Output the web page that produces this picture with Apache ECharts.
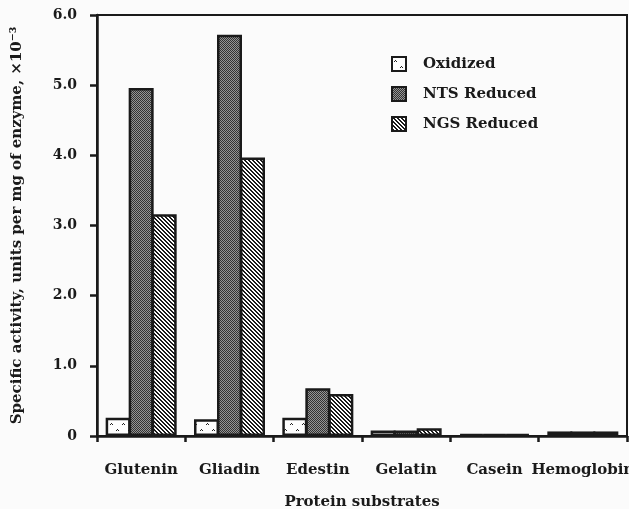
<!DOCTYPE html>
<html>
<head>
<meta charset="utf-8">
<script src="https://cdn.jsdelivr.net/npm/echarts@6/dist/echarts.min.js"></script>
<style>
html,body{margin:0;padding:0;background:#fbfbfb;}
#chart{width:629px;height:509px;}
</style>
</head>
<body>
<div id="chart"></div>
<script>
const categories = ['Glutenin', 'Gliadin', 'Edestin', 'Gelatin', 'Casein', 'Hemoglobin'];
const oxidized = [0.26, 0.24, 0.26, 0.08, 0.03, 0.065];
const ntsReduced = [4.96, 5.72, 0.68, 0.08, 0.03, 0.065];
const ngsReduced = [3.16, 3.97, 0.60, 0.11, 0.03, 0.065];
const seriesNames = ['Oxidized', 'NTS Reduced', 'NGS Reduced'];

function tile(w, h, draw) {
  const c = document.createElement('canvas');
  c.width = w; c.height = h;
  const ctx = c.getContext('2d');
  draw(ctx);
  return { image: c, repeat: 'repeat' };
}
const patOx = tile(12, 12, ctx => {
  ctx.fillStyle = '#fdfdfd'; ctx.fillRect(0, 0, 12, 12);
  ctx.fillStyle = '#222';
  [[3, 3], [9, 9]].forEach(([x, y]) => {
    ctx.fillRect(x, y, 1, 1);
    ctx.fillRect(x - 1, y + 1, 1, 1);
    ctx.fillRect(x + 1, y + 1, 1, 1);
  });
});
const patNTS = tile(2, 2, ctx => {
  ctx.fillStyle = '#959595'; ctx.fillRect(0, 0, 2, 2);
  ctx.fillStyle = '#333333'; ctx.fillRect(0, 0, 1, 1); ctx.fillRect(1, 1, 1, 1);
});
const patNGS = tile(4, 4, ctx => {
  ctx.fillStyle = '#fdfdfd'; ctx.fillRect(0, 0, 4, 4);
  ctx.fillStyle = '#1a1a1a';
  for (let i = 0; i < 4; i++) { ctx.fillRect(i, i, 1, 1); ctx.fillRect((i + 1) % 4, i, 1, 1); }
});

const font = 'DejaVu Serif';
const ink = '#1a1a1a';
const chart = echarts.init(document.getElementById('chart'), null, { renderer: 'canvas' });
const barStyle = (pat) => ({ color: pat, borderColor: ink, borderWidth: 2.5 });

chart.setOption({
  backgroundColor: '#fbfbfb',
  animation: false,
  grid: { left: 97, right: 2, top: 15, bottom: 73, show: true, borderColor: ink, borderWidth: 2,
    backgroundColor: 'transparent', containLabel: false, outerBoundsMode: 'none' },
  legend: {
    orient: 'vertical', left: 386, top: 51, itemGap: 14, itemWidth: 14, itemHeight: 14,
    icon: 'rect',
    textStyle: { fontFamily: font, fontWeight: 'bold', fontSize: 15, color: ink, padding: [0, 0, 0, 12] },
    itemStyle: { borderColor: ink, borderWidth: 2 },
    data: seriesNames
  },
  xAxis: {
    type: 'category', data: categories,
    name: 'Protein substrates', nameLocation: 'middle', nameGap: 59,
    nameTextStyle: { fontFamily: font, fontWeight: 'bold', fontSize: 15, color: ink },
    axisLine: { lineStyle: { color: ink, width: 2.5 } },
    axisTick: { show: true, length: 6, lineStyle: { color: ink, width: 2.5 } },
    axisLabel: { interval: 0, margin: 27, fontFamily: font, fontWeight: 'bold', fontSize: 15, color: ink, hideOverlap: false },
    splitLine: { show: false }
  },
  yAxis: {
    type: 'value', min: 0, max: 6, interval: 1,
    name: 'Specific activity, units per mg of enzyme, ×10⁻³', nameLocation: 'middle', nameGap: 72,
    nameTextStyle: { fontFamily: font, fontWeight: 'bold', fontSize: 15, color: ink },
    axisLine: { show: true, lineStyle: { color: ink, width: 2.5 } },
    axisTick: { show: true, length: 7, lineStyle: { color: ink, width: 2.5 } },
    axisLabel: { margin: 20, fontFamily: font, fontWeight: 'bold', fontSize: 14, color: ink,
      formatter: v => v === 0 ? '0' : v.toFixed(1) },
    splitLine: { show: false }
  },
  series: [
    { name: seriesNames[0], type: 'bar', data: oxidized, barWidth: 25, barGap: '-8%', itemStyle: barStyle(patOx) },
    { name: seriesNames[1], type: 'bar', data: ntsReduced, barWidth: 25, barGap: '-8%', itemStyle: barStyle(patNTS) },
    { name: seriesNames[2], type: 'bar', data: ngsReduced, barWidth: 25, barGap: '-8%', itemStyle: barStyle(patNGS) }
  ]
});
</script>
</body>
</html>
